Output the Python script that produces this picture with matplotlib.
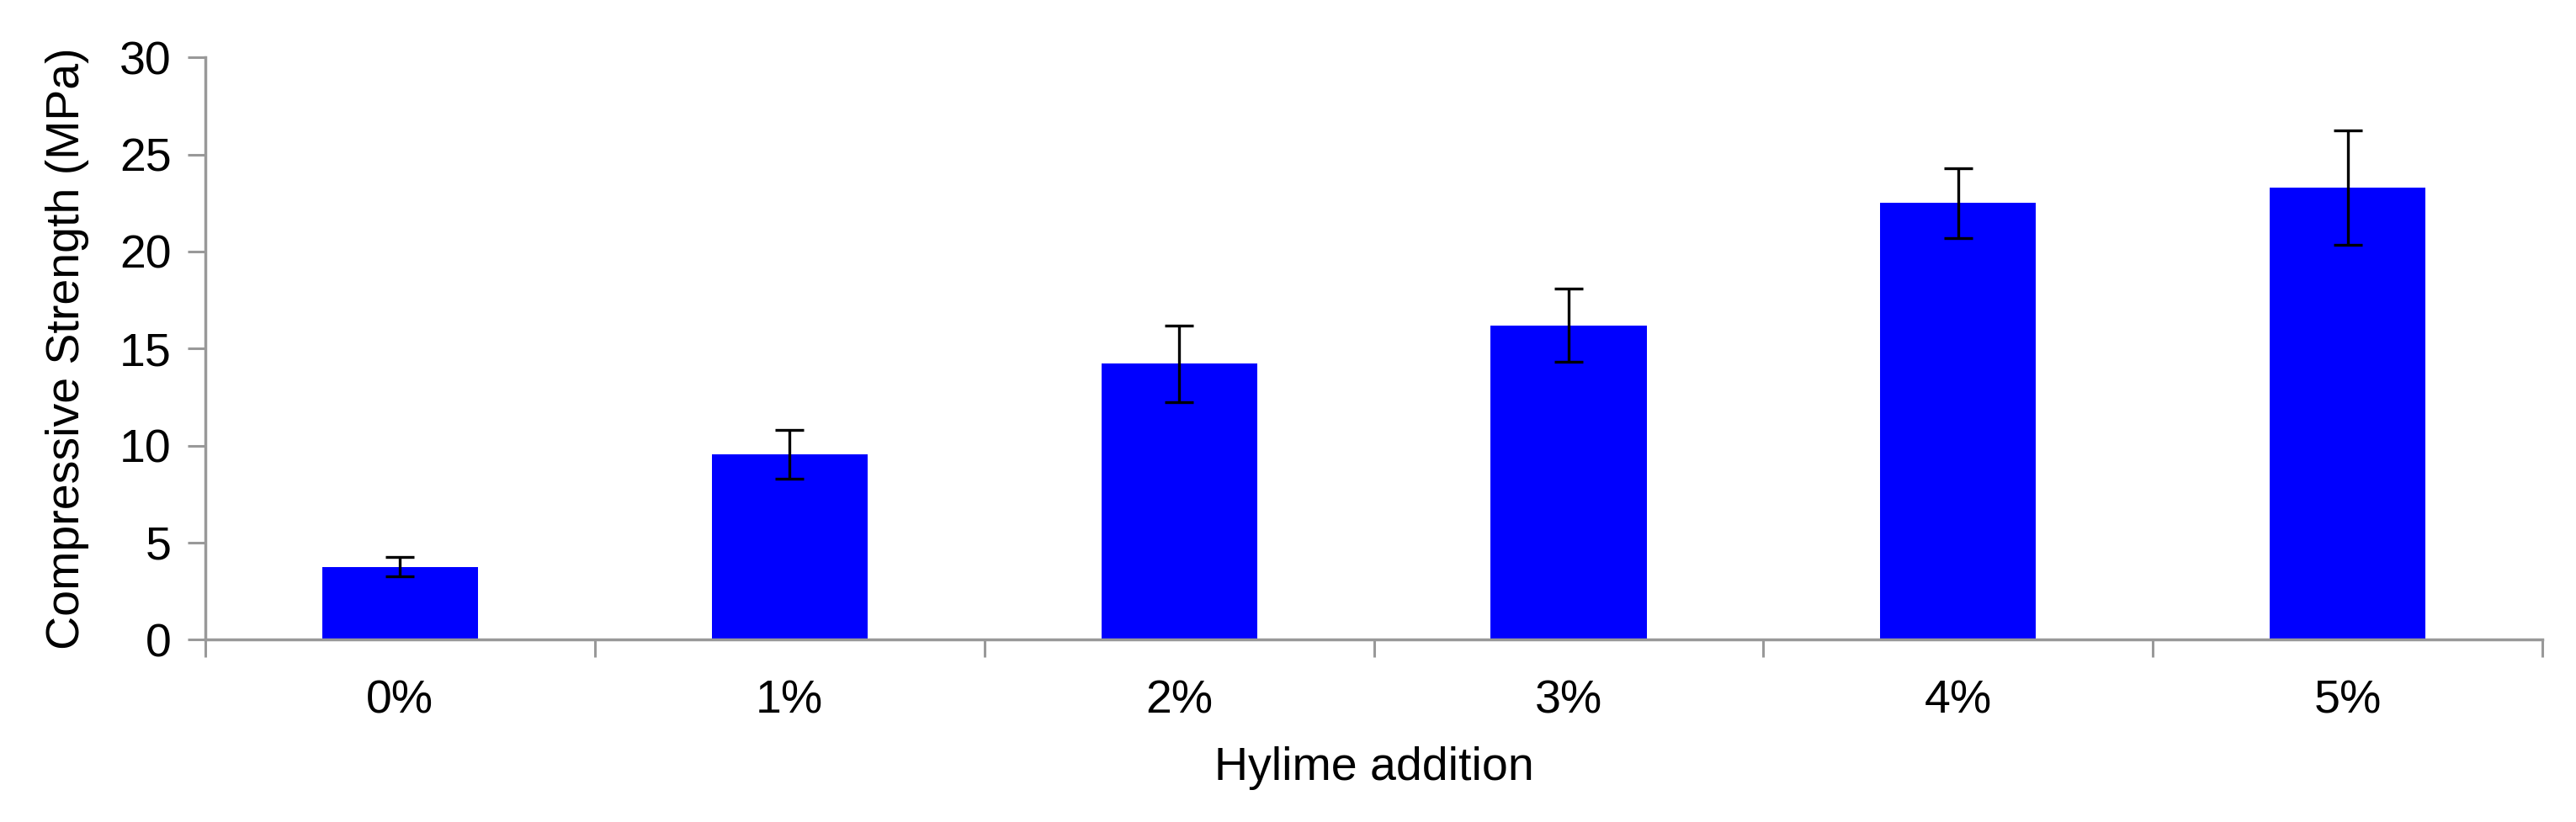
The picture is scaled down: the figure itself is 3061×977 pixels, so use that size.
import numpy as np
import matplotlib
matplotlib.use('Agg')
from matplotlib import pyplot as plt

plt.rcParams['font.family'] = ['Liberation Sans', 'DejaVu Sans']

categories = ['0%', '1%', '2%', '3%', '4%', '5%']
strength = [3.75, 9.55, 14.22, 16.2, 22.5, 23.28]
errors = [0.5, 1.25, 1.98, 1.9, 1.8, 2.95]

fig = plt.figure(figsize=(30.61, 9.77), dpi=100)
ax = fig.add_axes([0.0797, 0.222, 0.9073, 0.708])

x = np.arange(len(categories))
ax.bar(x, strength, width=0.4, color='#0000ff', zorder=2)
ax.errorbar(x, strength, yerr=errors, fmt='none', ecolor='black',
            elinewidth=2.4, capsize=12, capthick=2.4, zorder=3)

ax.set_xlim(-0.5, len(categories) - 0.5)
ax.set_ylim(0, 30)
ax.set_yticks(range(0, 31, 5))

# ticks between categories, labels centred on bars
ax.set_xticks(np.arange(-0.5, len(categories), 1.0))
ax.set_xticklabels([])
ax.set_xticks(x, minor=True)
ax.set_xticklabels(categories, minor=True)
ax.tick_params(axis='x', which='minor', length=0, pad=34, labelsize=40)
ax.tick_params(axis='x', which='major', length=15, width=2.2, color='#999999', direction='out')
ax.tick_params(axis='y', length=15, width=2.2, color='#999999', direction='out', pad=14, labelsize=40)

for side in ['top', 'right']:
    ax.spines[side].set_visible(False)
for side in ['left', 'bottom']:
    ax.spines[side].set_color('#999999')
    ax.spines[side].set_linewidth(2.5)

ax.set_ylabel('Compressive Strength (MPa)', fontsize=40, labelpad=26)
ax.set_xlabel('Hylime addition', fontsize=40, labelpad=20)

fig.savefig('out.png', dpi=100)
